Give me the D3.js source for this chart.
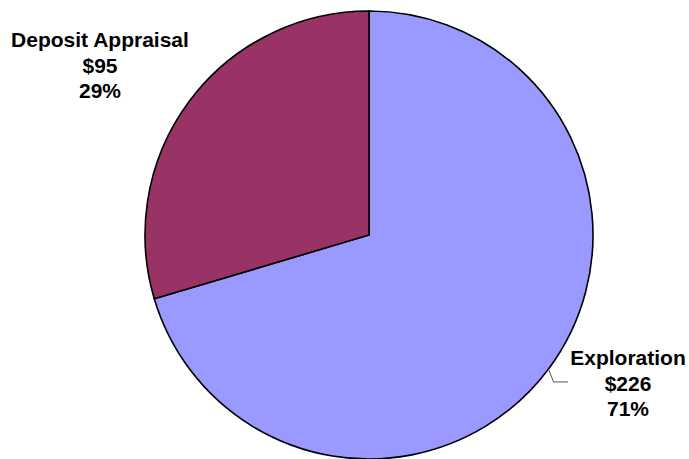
<!DOCTYPE html>
<html>
<head>
<meta charset="utf-8">
<script src="https://cdn.jsdelivr.net/npm/d3@7"></script>
<style>
  html, body { margin: 0; padding: 0; background: #fff; }
  svg { display: block; }
  text { font-family: "Liberation Sans", Arial, sans-serif; font-weight: bold; fill: #000; }
</style>
</head>
<body>
<svg id="chart" width="689" height="459"></svg>
<script>
// Spending split (in $) by activity
const categories = ["Exploration", "Deposit Appraisal"];
const amounts = [226, 95];
const amountLabels = ["$226", "$95"];
const percentLabels = ["71%", "29%"];
const colors = ["#9999FF", "#993366"];

const W = 689, H = 459;
const cx = 369, cy = 235, radius = 224;

const svg = d3.select("#chart");
const g = svg.append("g").attr("transform", `translate(${cx},${cy})`);

const pie = d3.pie().sort(null).value(d => d.value);
const data = categories.map((c, i) => ({ name: c, value: amounts[i], amount: amountLabels[i], pct: percentLabels[i], color: colors[i] }));
const arcs = pie(data);
const arc = d3.arc().innerRadius(0).outerRadius(radius);

g.selectAll("path.slice")
  .data(arcs)
  .enter().append("path")
  .attr("class", "slice")
  .attr("d", arc)
  .attr("fill", d => d.data.color)
  .attr("stroke", "#000")
  .attr("stroke-width", 1.6)
  .attr("stroke-linejoin", "miter");

// Label blocks: [x, first baseline] in page coords
const labelPos = [[628, 365], [100, 47]];
const lineGap = 25.5;

arcs.forEach((a, i) => {
  const [lx, ly] = labelPos[i];
  const t = svg.append("text")
    .attr("text-anchor", "middle")
    .attr("font-size", 21);
  [a.data.name, a.data.amount, a.data.pct].forEach((s, k) => {
    t.append("tspan").attr("x", lx).attr("y", ly + k * lineGap).text(s);
  });
});

// Leader line for the Exploration label
const ex = arcs[0];
const mid = (ex.startAngle + ex.endAngle) / 2;
const p0 = [cx + radius * Math.sin(mid), cy - radius * Math.cos(mid)];
const p1 = [p0[0] + 5, p0[1] + 13];
const p2 = [568, p1[1]];
svg.append("polyline")
  .attr("points", [p0, p1, p2].map(p => p.join(",")).join(" "))
  .attr("fill", "none")
  .attr("stroke", "#555")
  .attr("stroke-width", 1);
</script>
</body>
</html>
